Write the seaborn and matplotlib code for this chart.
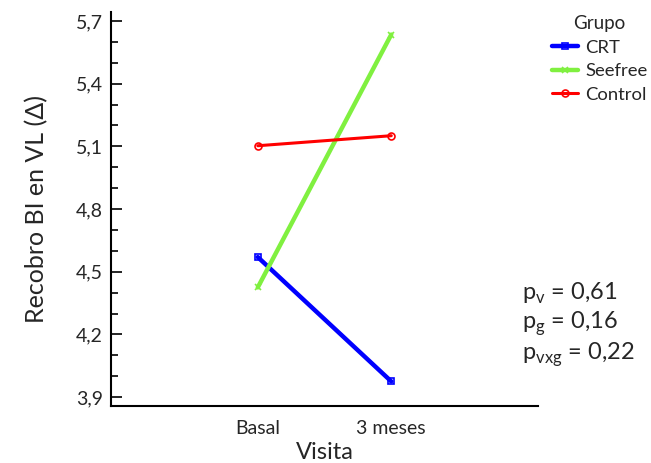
import matplotlib
matplotlib.use("Agg")
import matplotlib.pyplot as plt
import seaborn as sns
import pandas as pd
from matplotlib.ticker import MultipleLocator, FuncFormatter

sns.set_theme(style="ticks")
plt.rcParams['font.family'] = ['Lato', 'DejaVu Sans']
plt.rcParams['mathtext.fontset'] = 'custom'
plt.rcParams['mathtext.rm'] = 'Lato'

visitas = ["Basal", "3 meses"]
grupos = ["CRT", "Seefree", "Control"]
crt = [4.57, 3.975]
seefree = [4.425, 5.635]
control = [5.103, 5.151]
colores = {"CRT": "#0000ff", "Seefree": "#80f040", "Control": "#ff0000"}
marcadores = {"CRT": "s", "Seefree": "x", "Control": "o"}
grosores = {"CRT": 3.2, "Seefree": 3.2, "Control": 2.2}
pvals = ["p$_{\\mathregular{v}}$ = 0,61", "p$_{\\mathregular{g}}$ = 0,16", "p$_{\\mathregular{vxg}}$ = 0,22"]

rows = []
for g, vals in zip(grupos, [crt, seefree, control]):
    for i, v in enumerate(vals):
        rows.append({"Visita": i, "Valor": v, "Grupo": g})
df = pd.DataFrame(rows)

fig = plt.figure(figsize=(6.51, 4.63), dpi=100)
ax = fig.add_axes([0.1705, 0.123, 0.656, 0.851])

for g in grupos:
    sub = df[df["Grupo"] == g]
    sns.lineplot(data=sub, x="Visita", y="Valor", ax=ax, color=colores[g],
                 marker=marcadores[g], markersize=5, linewidth=grosores[g],
                 markerfacecolor='none' if g != "Seefree" else colores[g],
                 markeredgecolor=colores[g], markeredgewidth=1.2, label=g)

ax.set_xlim(-1.1, 2.1)
ax.set_ylim(3.857, 5.743)
ax.set_xticks([0, 1])
ax.set_xticklabels(visitas, fontsize=14)
ax.tick_params(axis='x', length=0, pad=10)
ax.yaxis.set_major_locator(MultipleLocator(0.3))
ax.yaxis.set_minor_locator(MultipleLocator(0.1))
ax.yaxis.set_major_formatter(FuncFormatter(lambda v, p: f"{v:.1f}".replace(".", ",")))
ax.tick_params(axis='y', which='major', direction='in', length=8, width=1.2, labelsize=14, pad=6, color='black')
ax.tick_params(axis='y', which='minor', direction='in', length=5, width=1.2, color='black')
for s in ["top", "right"]:
    ax.spines[s].set_visible(False)
for s in ["left", "bottom"]:
    ax.spines[s].set_linewidth(1.5)
    ax.spines[s].set_color('black')
ax.set_xlabel("Visita", fontsize=17, labelpad=4)
ax.set_ylabel("Recobro BI en VL (Δ)", fontsize=18, labelpad=20)

leg = ax.legend(title="Grupo", loc='upper left', bbox_to_anchor=(1.015, 1.01), frameon=False,
                fontsize=13.3, title_fontsize=13.5, handlelength=1.4, handletextpad=0.4,
                labelspacing=0.4, borderaxespad=0)

for i, t in enumerate(pvals):
    fig.text(522 / 651, 1 - (293 + 31 * i) / 463, t, fontsize=17, va='center', ha='left')

fig.savefig("out.png", dpi=100)
